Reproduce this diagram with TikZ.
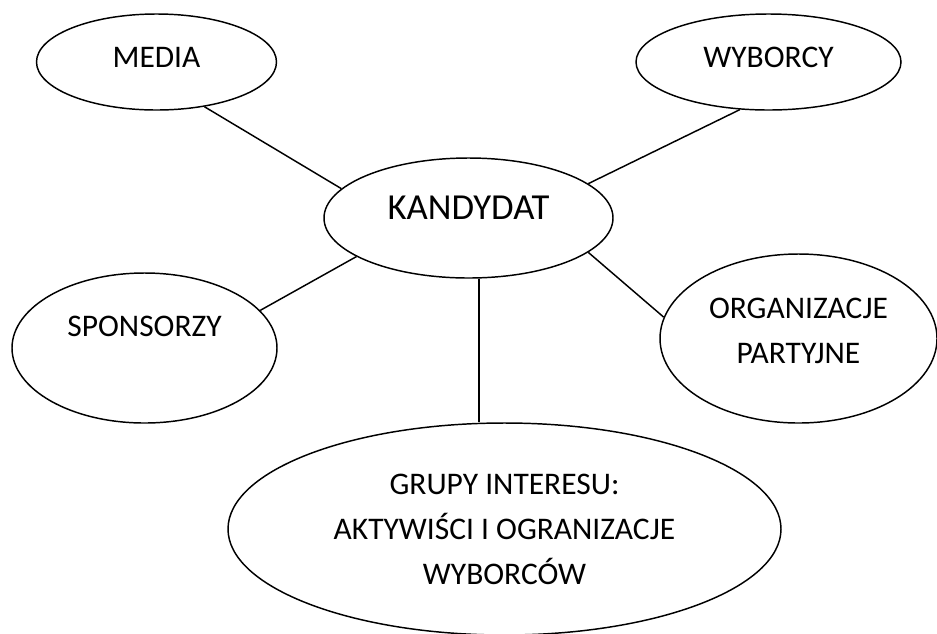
\documentclass[tikz,border=0pt]{standalone}
\usepackage{fontspec}
\setmainfont{Carlito}
\usetikzlibrary{shapes.geometric}

\tikzset{
  actor/.style={draw, ellipse, line width=1.1pt, inner sep=0pt, align=center,
    font=\fontsize{23.6}{33.75}\selectfont},
  link/.style={line width=1.1pt},
}

\begin{document}
\begin{tikzpicture}[x=0.75pt, y=-0.75pt]
  \useasboundingbox (0,0) rectangle (937,633);

  % the candidate in the middle
  \node[actor, minimum width=216.75pt, minimum height=90pt, text depth=15pt,
    font=\fontsize{27.5}{33.75}\selectfont] (kandydat) at (468.5,218) {KANDYDAT};

  % the groups around
  \node[actor, minimum width=180pt, minimum height=72pt, text depth=7pt]
    (media) at (156.5,62) {MEDIA};
  \node[actor, minimum width=198.75pt, minimum height=72pt, text depth=7pt]
    (wyborcy) at (768.5,62) {WYBORCY};
  \node[actor, minimum width=198.75pt, minimum height=112.5pt, text depth=33pt]
    (sponsorzy) at (144.5,348) {SPONSORZY};
  \node[actor, minimum width=207.75pt, minimum height=126.75pt, text depth=12pt]
    (organizacje) at (798.5,338.5) {ORGANIZACJE\\PARTYJNE};
  \node[actor, minimum width=414.75pt, minimum height=159pt]
    (grupy) at (504.5,529) {GRUPY INTERESU:\\AKTYWIŚCI I OGRANIZACJE\\WYBORCÓW};

  % spokes
  \draw[link] (media.-43) -- (kandydat.167);
  \draw[link] (wyborcy.-121) -- (kandydat.16);
  \draw[link] (kandydat.-161) -- (sponsorzy.18);
  \draw[link] (kandydat.-16) -- (organizacje.171);
  \draw[link] (kandydat.-80) -- (kandydat.-80 |- grupy.north);
\end{tikzpicture}
\end{document}
